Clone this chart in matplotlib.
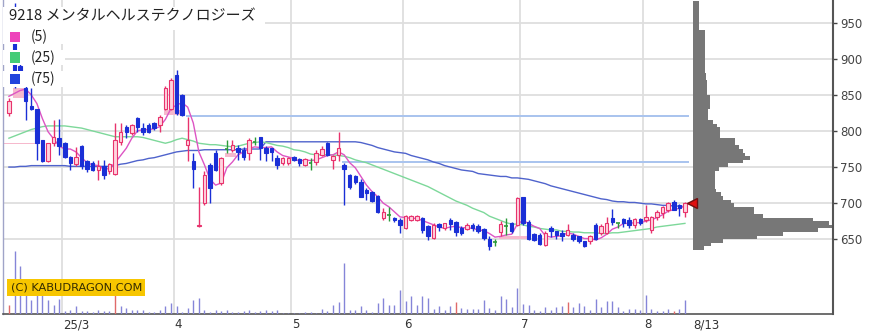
import matplotlib
matplotlib.use('Agg')
import matplotlib.pyplot as plt
import matplotlib.transforms as mtransforms
from matplotlib.patches import Rectangle
import numpy as np

plt.rcParams['font.family'] = ['DejaVu Sans']

title = '9218 メンタルヘルステクノロジーズ'

# daily candles, 2025/2/14 .. 2025/8/13
opens = [825, 950, 890, 859, 835, 831, 787, 758, 783, 790,
         783, 764, 754, 779, 758, 755, 746, 752, 744, 741,
         785, 806, 797, 818, 804, 808, 811, 808, 831, 831,
         878, 850, 781, 758, 668, 700, 753, 769, 728, 775,
         774, 777, 774, 769, 785, 792, 777, 776, 762, 755,
         755, 764, 761, 753, 755, 757, 767, 783, 760, 767,
         753, 739, 737, 729, 718, 716, 710, 680, 684, 680,
         677, 665, 677, 677, 680, 669, 652, 671, 665, 677,
         674, 666, 664, 670, 668, 664, 651, 646, 660, 668,
         672, 670, 708, 674, 657, 656, 642, 665, 661, 659,
         656, 656, 654, 647, 647, 670, 658, 659, 679, 672,
         678, 677, 670, 678, 677, 663, 681, 686, 691, 701,
         697, 688]
highs = [846, 977, 893, 862, 859, 831, 788, 783, 815, 817,
         785, 766, 778, 781, 760, 758, 760, 760, 756, 811,
         811, 808, 810, 820, 811, 811, 813, 822, 862, 873,
         885, 851, 820, 769, 723, 744, 755, 774, 764, 788,
         788, 781, 778, 790, 792, 792, 779, 777, 767, 764,
         764, 766, 762, 762, 762, 773, 779, 785, 767, 799,
         755, 741, 739, 734, 721, 717, 712, 693, 695, 681,
         679, 684, 683, 683, 681, 670, 672, 673, 673, 680,
         676, 668, 672, 672, 671, 666, 654, 651, 675, 679,
         674, 708, 709, 677, 659, 658, 661, 668, 662, 663,
         671, 658, 655, 648, 656, 672, 671, 681, 692, 673,
         680, 681, 679, 680, 698, 682, 691, 696, 701, 704,
         699, 701]
lows = [821, 860, 862, 815, 829, 760, 757, 757, 779, 767,
        762, 746, 752, 748, 743, 744, 732, 734, 741, 739,
        781, 790, 795, 799, 794, 797, 801, 799, 829, 829,
        822, 821, 758, 721, 667, 698, 700, 744, 725, 769,
        771, 760, 760, 760, 780, 760, 758, 758, 748, 753,
        753, 758, 751, 751, 746, 753, 765, 765, 747, 758,
        698, 719, 727, 708, 704, 701, 686, 677, 676, 674,
        658, 664, 676, 676, 658, 649, 651, 662, 663, 663,
        655, 656, 663, 661, 658, 649, 635, 640, 654, 656,
        658, 669, 670, 649, 647, 642, 641, 653, 651, 648,
        654, 648, 645, 639, 644, 649, 656, 657, 670, 665,
        667, 665, 665, 670, 674, 658, 677, 680, 688, 691,
        682, 681]
closes = [841, 862, 874, 841, 830, 783, 758, 783, 792, 779,
          764, 755, 764, 751, 748, 746, 752, 739, 754, 788,
          799, 799, 808, 806, 799, 799, 804, 820, 859, 871,
          825, 822, 788, 748, 670, 739, 721, 746, 762, 775,
          781, 771, 764, 788, 785, 776, 770, 771, 753, 762,
          762, 760, 755, 761, 755, 770, 775, 767, 766, 777,
          748, 723, 730, 709, 714, 703, 688, 688, 684, 677,
          670, 682, 682, 682, 663, 655, 670, 667, 672, 671,
          660, 659, 670, 666, 661, 652, 641, 646, 671, 668,
          661, 707, 673, 651, 649, 644, 658, 661, 656, 655,
          663, 651, 647, 641, 654, 651, 668, 672, 674, 672,
          672, 670, 678, 673, 681, 681, 688, 695, 700, 691,
          693, 700]
volumes = [9, 63, 48, 21, 14, 19, 19, 14, 9, 15,
           3, 4, 8, 3, 3, 2, 4, 3, 3, 19,
           8, 6, 4, 4, 4, 2, 2, 4, 8, 11,
           8, 2, 6, 14, 16, 4, 2, 4, 3, 4,
           2, 2, 3, 4, 2, 3, 4, 3, 4, 1,
           1, 1, 1, 2, 2, 1, 5, 3, 9, 12,
           51, 4, 4, 8, 4, 2, 11, 16, 9, 9,
           24, 13, 18, 9, 18, 16, 5, 8, 4, 8,
           12, 6, 5, 5, 5, 14, 6, 4, 18, 15,
           7, 26, 10, 9, 4, 3, 7, 4, 7, 8,
           12, 7, 11, 8, 4, 15, 7, 13, 13, 7,
           3, 5, 5, 4, 19, 5, 3, 3, 5, 3,
           5, 14]
vol_red_days = [0, 19, 80, 100, 119]

ma5 = [848, 852, 856, 858, 850, 838, 817, 799, 789, 779,
       775, 775, 771, 763, 756, 753, 752, 747, 748, 756,
       766, 776, 790, 800, 802, 802, 803, 806, 816, 831,
       836, 839, 833, 811, 771, 753, 733, 725, 728, 749,
       757, 767, 771, 776, 778, 777, 777, 778, 771, 766,
       764, 762, 758, 760, 759, 760, 763, 766, 767, 771,
       767, 756, 749, 737, 725, 716, 709, 700, 695, 688,
       681, 680, 679, 679, 676, 673, 670, 667, 665, 667,
       668, 666, 666, 665, 663, 662, 658, 653, 654, 656,
       657, 671, 676, 672, 668, 665, 655, 653, 654, 655,
       659, 657, 654, 651, 651, 649, 652, 657, 664, 667,
       672, 672, 673, 673, 675, 677, 680, 684, 689, 691,
       693, 696]
ma25 = [790, 793, 796, 799, 802, 804, 806, 807, 807, 807,
        807, 806, 805, 804, 802, 800, 798, 796, 794, 792,
        792, 792, 792, 792, 791, 789, 787, 785, 783, 785,
        788, 790, 788, 786, 783, 782, 781, 781, 780, 779,
        778, 779, 781, 783, 784, 785, 784, 782, 780, 779,
        777, 774, 773, 771, 768, 767, 767, 767, 767, 766,
        765, 763, 760, 758, 756, 753, 750, 747, 744, 741,
        738, 735, 732, 729, 726, 723, 719, 715, 711, 707,
        703, 700, 697, 693, 690, 687, 682, 679, 676, 673,
        671, 671, 670, 668, 667, 665, 664, 663, 663, 661,
        661, 660, 660, 659, 659, 659, 658, 658, 659, 659,
        660, 661, 662, 663, 664, 665, 667, 668, 669, 670,
        671, 672]
ma75 = [750, 750, 751, 751, 752, 752, 752, 752, 752, 752,
        752, 751, 751, 751, 751, 751, 751, 751, 751, 752,
        754, 755, 757, 759, 760, 762, 763, 765, 767, 769,
        771, 772, 773, 773, 773, 774, 774, 774, 774, 774,
        774, 774, 775, 775, 775, 775, 785, 785, 785, 785,
        785, 785, 785, 785, 785, 785, 785, 785, 785, 785,
        785, 785, 785, 784, 782, 780, 777, 775, 773, 771,
        770, 769, 766, 764, 762, 760, 757, 755, 752, 750,
        748, 746, 745, 744, 741, 740, 739, 738, 737, 737,
        735, 735, 734, 733, 731, 729, 727, 724, 722, 720,
        718, 716, 714, 712, 710, 708, 706, 705, 703, 702,
        702, 701, 701, 700, 699, 699, 698, 697, 697, 696,
        696, 695]

# windows (start candle, fill candle, low, high); None = still open
gaps_up = [(-2, 5, 781.5, 784), (0, 3, 846, 859), (27, 31, 822, 829),
           (38, 41, 764, 769), (87, 93, 651, 654)]
gaps_down = [(31, None, 820, 822), (59, None, 755, 758)]

month_starts = [10, 30, 51, 71, 92, 114]
month_labels = ['25/3', '4', '5', '6', '7', '8']
last_label = '8/13'

# price-by-volume profile, 5 yen bins from 635
prof_low = 635
prof_vol = [11, 18, 30, 64, 90, 125, 139, 136, 120, 70,
            61, 61, 41, 38, 30, 28, 23, 22, 22, 22,
            22, 22, 26, 35, 50, 57, 52, 50, 46, 42,
            42, 27, 27, 27, 24, 20, 15, 15, 15, 17,
            17, 17, 17, 14, 14, 14, 14, 13, 13, 12,
            12, 12, 12, 12, 12, 12, 12, 12, 12, 12,
            12, 6, 6, 6, 6, 6, 6, 6, 6]

n = len(closes)
assert len(opens) == n and len(highs) == n and len(lows) == n
assert len(volumes) == n and len(ma5) == n and len(ma25) == n and len(ma75) == n
idx = np.arange(n)

W, H = 896, 334


def fx(px):
    return px / W


def fy(py):
    return 1 - py / H


fig = plt.figure(figsize=(W / 100, H / 100), dpi=100)
ax = fig.add_axes([fx(2.5), fy(314), (833 - 2.5) / W, 314 / H])
ax.set_xlim(-1.15, 147.5)
ax.set_ylim(546.5, 981.4)

# volume on a twin axis (made first, twinx moves the ticks of ax to the left)
ax2 = ax.twinx()
ax2.set_ylim(0, max(volumes) * 5)
ax2.set_yticks([])
for sp in ax2.spines.values():
    sp.set_visible(False)
vcols = ['#e06a6a' if i in vol_red_days else '#8585d8' for i in range(n)]
ax2.vlines(idx, 0, volumes, colors=vcols, lw=1.0)

# grid
for p in range(650, 951, 50):
    ax.axhline(p, color='#dedede', lw=1.3, zorder=0)
for m in month_starts:
    ax.axvline(m - 0.5, color='#dedede', lw=1.3, zorder=0)

# windows
for s, e, lo, hi in gaps_up:
    ax.add_patch(Rectangle((s + 0.7, lo), e - s - 1.0, hi - lo,
                           facecolor='#f6b9cd', edgecolor='none', zorder=1))
for s, e, lo, hi in gaps_down:
    e = n if e is None else e
    ax.add_patch(Rectangle((s + 0.7, lo), e - s - 1.0, hi - lo,
                           facecolor='#aac4ee', edgecolor='none', zorder=1))

# moving averages
ax.plot(idx, ma75, color='#4f63cc', lw=1.0, zorder=2)
ax.plot(idx, ma25, color='#7dd89a', lw=1.0, zorder=2)
ax.plot(idx, ma5, color='#dd55c4', lw=1.0, zorder=2)

# candles
for i in range(n):
    o, h, l, c = opens[i], highs[i], lows[i], closes[i]
    if c > o:
        col, fc = '#e8336d', '#ffd3df'
    elif c < o:
        col, fc = '#1a2fd6', '#1a2fd6'
    else:
        col, fc = '#2a9a3a', '#2a9a3a'
    ax.vlines(i, l, h, color=col, lw=1.0, zorder=3)
    if c == o:
        ax.hlines(c, i - 0.3, i + 0.3, color=col, lw=1.2, zorder=4)
    else:
        ax.add_patch(Rectangle((i - 0.31, min(o, c)), 0.62, abs(c - o),
                               facecolor=fc, edgecolor=col, lw=0.8, zorder=4))

# price-by-volume profile, one stepped polygon
prof_x0 = 122.4
scale = (147.3 - prof_x0) / max(prof_vol)
edges = prof_low + 5 * np.arange(len(prof_vol) + 1)
widths = np.append(np.array(prof_vol) * scale, prof_vol[-1] * scale)
ax.fill_betweenx(edges, prof_x0, prof_x0 + widths, step='post',
                 facecolor='#777777', edgecolor='none', lw=0, zorder=2)

ax.plot(122.2, closes[-1], marker='<', ms=7, mfc='#e01010', mec='#701010',
        mew=1, zorder=7, clip_on=False)

# axes styling
ax.yaxis.tick_right()
ax.yaxis.set_label_position('right')
ax.set_yticks(range(650, 951, 50))
ax.set_xticks([])
ax.tick_params(axis='y', which='both', left=False, labelleft=False,
               right=True, labelright=True, length=3, width=1,
               colors='#444', labelsize=8.5, pad=2)
ax.spines['top'].set_visible(False)
ax.spines['left'].set_color('#a0a4c8')
ax.spines['left'].set_linewidth(1.0)
ax.spines['bottom'].set_color('#555555')
ax.spines['bottom'].set_linewidth(1.2)
ax.spines['right'].set_color('#555555')
ax.spines['right'].set_linewidth(1.5)

# date labels
trans = mtransforms.blended_transform_factory(ax.transData, ax.transAxes)
for m, lab in zip(month_starts, month_labels):
    ax.text(m - 0.5 + 0.15, -11 / 314, lab, transform=trans, ha='left',
            va='center', fontsize=8.5, color='#333')
ax.text(prof_x0, -11 / 314, last_label, transform=trans, ha='left',
        va='center', fontsize=8.5, color='#333')

# watermark
fig.text(fx(10.5), fy(287.5), '(C) KABUDRAGON.COM', fontsize=8.2, color='#332b00',
         va='center', ha='left', zorder=10,
         bbox=dict(boxstyle='square,pad=0.3', fc='#f7c600', ec='none'))

# legend
jp = ['Noto Sans CJK JP', 'DejaVu Sans']
fig.add_artist(Rectangle((fx(3), fy(30)), 262 / W, 23 / H, transform=fig.transFigure,
                         facecolor='white', edgecolor='none', zorder=9))
fig.text(fx(9), fy(16), title, fontsize=10.8, family=jp, color='#222',
         va='center', ha='left', zorder=10)
for (top, bot), col, lab in zip([(30, 44), (50, 65), (71, 87)],
                                ['#ee44bb', '#44cc77', '#2244dd'],
                                ['(5)', '(25)', '(75)']):
    fig.add_artist(Rectangle((fx(3), fy(bot)), 62 / W, (bot - top) / H,
                             transform=fig.transFigure, facecolor='white',
                             edgecolor='none', zorder=9))
    mid = (top + bot) / 2
    fig.add_artist(Rectangle((fx(10), fy(mid + 5)), 10 / W, 10 / H,
                             transform=fig.transFigure, facecolor=col,
                             edgecolor='none', zorder=10))
    fig.text(fx(31), fy(mid), lab, fontsize=10, family=jp, color='#222',
             va='center', ha='left', zorder=10)

fig.savefig('out.png', dpi=100)
